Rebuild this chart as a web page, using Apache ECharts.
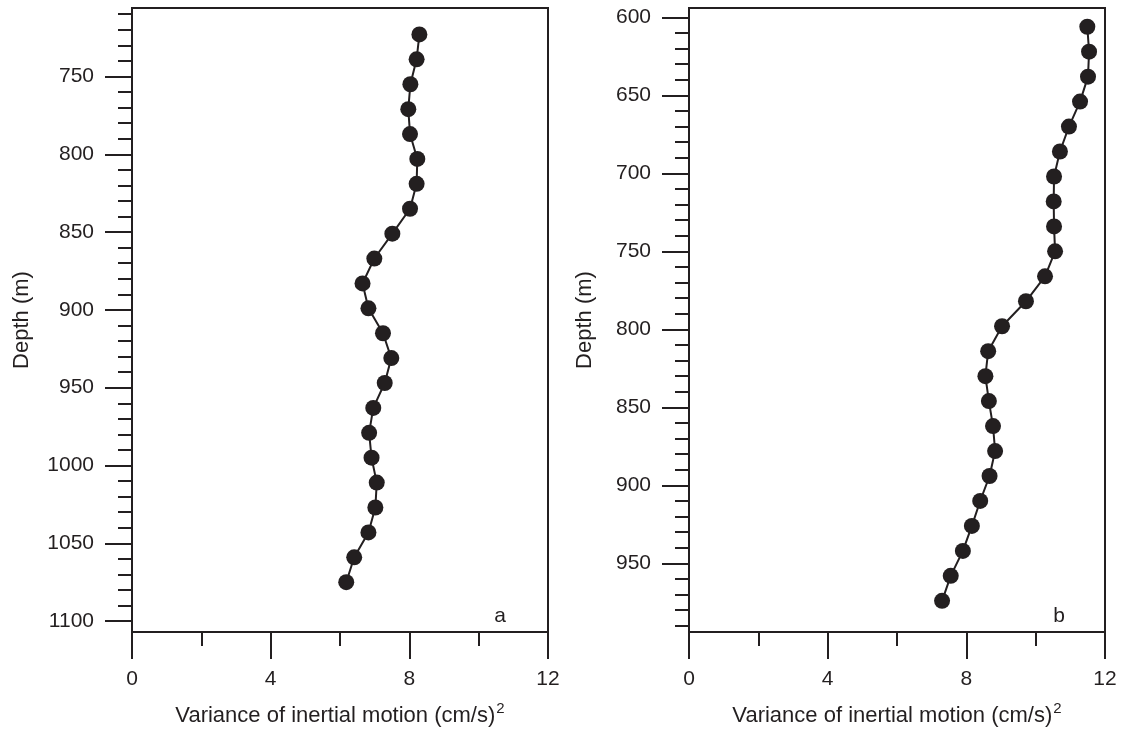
<!DOCTYPE html>
<html><head><meta charset="utf-8">
<script src="https://cdn.jsdelivr.net/npm/echarts@6/dist/echarts.min.js"></script>
<style>html,body{margin:0;padding:0;background:#fff}#c{width:1125px;height:730px}</style>
</head><body><div id="c"></div>
<script>
// Panel a
const depthA = [723,739,755,771,787,803,819,835,851,867,883,899,915,931,947,963,979,995,1011,1027,1043,1059,1075];
const varA = [8.29,8.21,8.03,7.97,8.02,8.23,8.21,8.02,7.51,6.99,6.65,6.82,7.24,7.48,7.29,6.96,6.84,6.91,7.06,7.02,6.82,6.41,6.18];
// Panel b
const depthB = [606,622,638,654,670,686,702,718,734,750,766,782,798,814,830,846,862,878,894,910,926,942,958,974];
const varB = [11.49,11.54,11.51,11.28,10.96,10.70,10.53,10.52,10.53,10.56,10.27,9.72,9.03,8.63,8.55,8.65,8.77,8.83,8.67,8.40,8.16,7.90,7.55,7.30];

// Axis ranges and ticks
const yRangeA = [706, 1107];
const yRangeB = [594, 994];
const yMajorA = [750,800,850,900,950,1000,1050,1100];
const yMinorA = [710,720,730,740,760,770,780,790,810,820,830,840,860,870,880,890,910,920,930,940,960,970,980,990,1010,1020,1030,1040,1060,1070,1080,1090];
const yMajorB = [600,650,700,750,800,850,900,950];
const yMinorB = [610,620,630,640,660,670,680,690,710,720,730,740,760,770,780,790,810,820,830,840,860,870,880,890,910,920,930,940,960,970,980,990];
const xMajor = [0,4,8,12];
const xMinor = [2,6,10];
const xName = '{n|Variance of inertial motion (cm/s)}{sup|2}';
const yName = 'Depth (m)';
const panelLabels = ['a','b'];

const C = '#231f20';
const F = '"Liberation Sans", Arial, Helvetica, sans-serif';
const FS = 21;
const NFS = 22;

function pairs(xs, ys){ return xs.map((v,i)=>[v, ys[i]]); }
const plain = v => String(v);

function xAxes(gi){
  return [
    {gridIndex:gi, type:'value', min:0, max:12, interval:4, position:'bottom',
     axisLine:{show:true,onZero:false,lineStyle:{color:C,width:2}},
     axisTick:{show:true,length:27,customValues:xMajor,lineStyle:{color:C,width:2}},
     axisLabel:{customValues:xMajor,margin:37,fontSize:FS,color:C,fontFamily:F,formatter:plain},
     splitLine:{show:false},
     name:xName, nameLocation:'middle', nameGap:69,
     nameTextStyle:{fontSize:NFS,color:C,fontFamily:F,
       rich:{
         n:{fontSize:NFS,color:C,fontFamily:F,lineHeight:30},
         sup:{fontSize:15,color:C,fontFamily:F,verticalAlign:'top',padding:[0,0,0,1]}
       }}},
    {gridIndex:gi, type:'value', min:0, max:12, interval:2, position:'bottom', offset:0,
     axisLine:{show:false,onZero:false},
     axisTick:{show:true,length:14,customValues:xMinor,lineStyle:{color:C,width:2}},
     axisLabel:{show:false}, splitLine:{show:false}}
  ];
}
function yAxes(gi, range, major, minor, gap){
  return [
    {gridIndex:gi, type:'value', inverse:true, min:range[0], max:range[1], position:'left',
     axisLine:{show:true,onZero:false,lineStyle:{color:C,width:2}},
     axisTick:{show:true,length:27,customValues:major,lineStyle:{color:C,width:2}},
     axisLabel:{customValues:major,margin:38,fontSize:FS,color:C,fontFamily:F,formatter:plain},
     splitLine:{show:false},
     name:yName, nameLocation:'middle', nameGap:gap,
     nameTextStyle:{fontSize:NFS,color:C,fontFamily:F}},
    {gridIndex:gi, type:'value', inverse:true, min:range[0], max:range[1], position:'left', offset:0,
     axisLine:{show:false,onZero:false},
     axisTick:{show:true,length:14,customValues:minor,lineStyle:{color:C,width:2}},
     axisLabel:{show:false}, splitLine:{show:false}}
  ];
}
function lineSeries(xi, yi, data){
  return {type:'line', xAxisIndex:xi, yAxisIndex:yi, data:data,
    symbol:'circle', symbolSize:16, showSymbol:true,
    lineStyle:{color:C,width:2}, itemStyle:{color:C}, animation:false, silent:true};
}

const chart = echarts.init(document.getElementById('c'), null, {renderer:'canvas'});
chart.setOption({
  backgroundColor:'#ffffff',
  animation:false,
  grid:[
    {left:132, top:8, width:416, height:624, show:true, borderColor:C, borderWidth:2, outerBoundsMode:'none', containLabel:false},
    {left:689, top:8, width:416, height:624, show:true, borderColor:C, borderWidth:2, outerBoundsMode:'none', containLabel:false}
  ],
  xAxis:[...xAxes(0), ...xAxes(1)],
  yAxis:[...yAxes(0, yRangeA, yMajorA, yMinorA, 99), ...yAxes(1, yRangeB, yMajorB, yMinorB, 93)],
  series:[
    lineSeries(0, 0, pairs(varA, depthA)),
    lineSeries(2, 2, pairs(varB, depthB))
  ],
  graphic:[
    {type:'text', x:500, y:616, style:{text:panelLabels[0], fontSize:FS, fill:C, fontFamily:F, align:'center', verticalAlign:'middle'}},
    {type:'text', x:1059, y:616, style:{text:panelLabels[1], fontSize:FS, fill:C, fontFamily:F, align:'center', verticalAlign:'middle'}}
  ]
});
</script>
</body></html>
